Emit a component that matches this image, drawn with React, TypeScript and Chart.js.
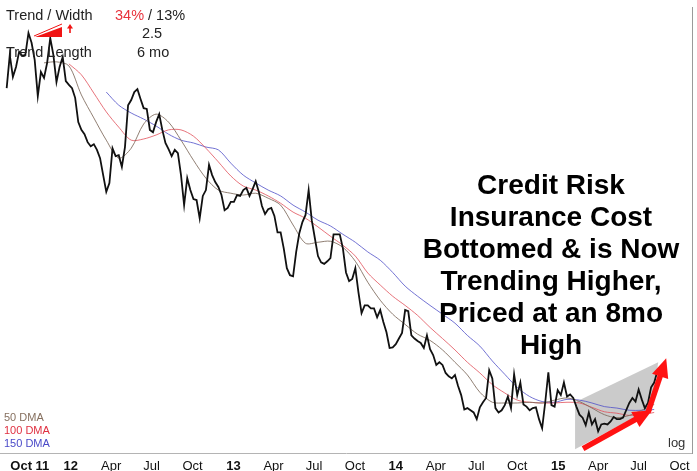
import React, { useEffect, useRef } from 'react';
import { Chart, registerables } from 'chart.js';

Chart.register(...registerables);

const DAY = 86400000;
const toMs = (d: string) => Date.parse(d + 'T00:00:00Z');

// ---- data ----
const seriesStart = '2011-08-10';
const seriesStepDays = 7;
const cdsValues = [
  125.0, 134.7, 128.2, 131.1, 135.6, 134.4, 134.7, 141.5, 138.4, 133.2,
  122.8, 129.6, 127.9, 132.3, 139.9, 134.7, 126.7, 131.1, 134.1, 127.0,
  125.9, 125.0, 122.3, 115.8, 113.8, 112.7, 110.7, 109.7, 110.2, 108.8,
  106.8, 102.8, 99.0, 101.0, 109.2, 107.3, 107.5, 104.7, 109.5, 120.3,
  121.7, 123.9, 124.7, 122.0, 119.5, 119.3, 113.8, 113.2, 115.8, 117.9,
  113.8, 110.5, 109.0, 107.3, 108.8, 108.0, 102.8, 96.1, 102.1, 99.4,
  97.4, 97.2, 93.3, 98.1, 99.4, 105.2, 102.8, 101.2, 100.1, 98.3,
  95.0, 95.5, 96.8, 96.8, 98.3, 98.1, 99.4, 99.9, 98.1, 99.6,
  101.4, 99.0, 95.9, 94.2, 95.2, 95.5, 93.8, 90.4, 90.4, 87.2,
  83.4, 82.1, 81.9, 86.5, 90.2, 92.5, 94.0, 99.4, 92.9, 89.2,
  85.7, 84.5, 84.2, 84.7, 85.3, 90.0, 90.0, 90.0, 87.2, 82.6,
  81.0, 81.4, 83.4, 79.0, 75.4, 76.7, 76.7, 76.2, 76.2, 74.7,
  75.9, 73.9, 72.2, 69.7, 69.8, 70.3, 71.2, 72.1, 75.9, 75.7,
  71.7, 71.2, 70.8, 70.5, 69.7, 71.7, 69.5, 68.6, 67.1, 67.5,
  67.1, 65.9, 65.4, 65.1, 65.6, 64.0, 62.7, 60.7, 60.9, 60.6,
  60.3, 59.4, 61.0, 61.7, 62.3, 66.3, 65.1, 60.9, 60.3, 60.6,
  61.3, 62.5, 60.9, 65.7, 62.7, 64.5, 61.4, 61.1, 60.6, 60.9,
  61.0, 59.4, 58.2, 61.7, 66.0, 61.3, 61.1, 63.4, 62.7, 64.5,
  62.5, 62.8, 62.3, 61.1, 60.0, 59.6, 58.6, 60.3, 58.7, 59.4,
  57.8, 58.7, 58.8, 58.7, 59.1, 59.7, 59.4, 59.4, 59.6, 60.6,
  61.6, 62.3, 61.8, 63.5, 62.1, 60.9, 61.6, 63.8, 64.5, 66.1,
];

const maStart = '2011-08-10';
const maStepDays = 28;
const dma50 = [
  null, null, null, 132.3, 132.6, 131.4, 123.1, 116.9, 111.2, 106.8,
  109.2, 115.3, 117.9, 115.8, 111.2, 106.3, 102.1, 99.4, 98.7, 98.3,
  98.7, 97.6, 96.1, 91.9, 88.2, 88.4, 88.6, 87.4, 84.7, 80.8,
  77.6, 75.2, 73.5, 71.9, 70.9, 69.4, 67.5, 65.6, 63.1, 61.7,
  61.6, 61.6, 61.7, 61.6, 62.0, 62.3, 61.8, 60.9, 60.0, 59.6,
  59.9, 60.6, 61.4,
];
const dma100 = [
  null, null, null, null, null, 132.0, 128.8, 123.6, 118.5, 114.5,
  111.2, 111.5, 112.5, 113.8, 113.8, 112.2, 109.2, 105.9, 102.6, 100.3,
  99.4, 98.1, 96.5, 94.6, 93.3, 91.5, 89.6, 87.8, 85.7, 82.5,
  80.3, 78.3, 76.7, 75.0, 73.0, 71.2, 69.4, 67.5, 65.9, 64.2,
  63.0, 62.0, 61.7, 61.6, 61.6, 61.7, 61.6, 61.0, 60.4, 60.2,
  59.9, 60.0, 60.3,
];
const dma150 = [
  null, null, null, null, null, null, null, null, 123.9, 120.3,
  118.2, 116.6, 114.8, 112.7, 111.2, 110.5, 109.5, 108.8, 105.6, 102.8,
  101.0, 99.4, 98.1, 96.1, 94.6, 92.9, 91.7, 90.0, 88.4, 86.5,
  84.9, 82.6, 80.1, 78.3, 76.7, 75.2, 73.7, 71.7, 70.0, 67.7,
  65.7, 63.8, 62.5, 61.8, 61.7, 62.1, 62.0, 61.6, 61.1, 60.9,
  60.6, 60.6, 60.7,
];

const axisStart = '2011-07-26';
const axisEnd = '2015-10-29';
const yMin = 55;
const yMax = 150;

const quarterTicks = [
  '2011-10-01', '2012-01-01', '2012-04-01', '2012-07-01', '2012-10-01',
  '2013-01-01', '2013-04-01', '2013-07-01', '2013-10-01',
  '2014-01-01', '2014-04-01', '2014-07-01', '2014-10-01',
  '2015-01-01', '2015-04-01', '2015-07-01', '2015-10-01',
];
const quarterLabels = [
  'Oct 11', '12', 'Apr', 'Jul', 'Oct',
  '13', 'Apr', 'Jul', 'Oct',
  '14', 'Apr', 'Jul', 'Oct',
  '15', 'Apr', 'Jul', 'Oct',
];
const boldLabels = ['Oct 11', '12', '13', '14', '15'];

// trend channel + arrows (date, value)
const channelDates = ['2015-02-08', '2015-08-14', '2015-07-31', '2015-02-08'];
const channelValues = [61.7, 67.5, 60.9, 55.5];
const arrowFromDates = ['2015-02-26', '2015-07-22'];
const arrowFromValues = [55.6, 60.3];
const arrowToDates = ['2015-07-31', '2015-09-01'];
const arrowToValues = [60.6, 68.1];

const headline = [
  'Credit Risk',
  'Insurance Cost',
  'Bottomed & is Now',
  'Trending Higher,',
  'Priced at an 8mo',
  'High',
];
const dmaLegend = ['50 DMA', '100 DMA', '150 DMA'];
const dmaColors = ['rgba(125,105,90,0.85)', 'rgba(225,80,90,0.8)', 'rgba(80,80,200,0.8)'];
const dmaTextColors = ['#86705f', '#e03040', '#4a4ac8'];

const FONT = '"Liberation Sans", Arial, Helvetica, sans-serif';

function seriesPoints(values: (number | null)[], start: string, step: number) {
  const s = toMs(start);
  const out: { x: number; y: number }[] = [];
  values.forEach((v, i) => {
    if (v !== null) out.push({ x: s + i * step * DAY, y: v });
  });
  return out;
}

function drawArrow(ctx: CanvasRenderingContext2D, x1: number, y1: number, x2: number, y2: number) {
  const ang = Math.atan2(y2 - y1, x2 - x1);
  const headLen = 19;
  const headHalf = 8.5;
  const bx = x2 - Math.cos(ang) * headLen;
  const by = y2 - Math.sin(ang) * headLen;
  ctx.beginPath();
  ctx.moveTo(x1, y1);
  ctx.lineTo(bx + Math.cos(ang) * 2, by + Math.sin(ang) * 2);
  ctx.lineWidth = 5.5;
  ctx.lineCap = 'butt';
  ctx.stroke();
  ctx.beginPath();
  ctx.moveTo(x2, y2);
  ctx.lineTo(bx + Math.sin(ang) * headHalf, by - Math.cos(ang) * headHalf);
  ctx.lineTo(bx - Math.sin(ang) * headHalf, by + Math.cos(ang) * headHalf);
  ctx.closePath();
  ctx.fill();
}

const overlayPlugin = {
  id: 'overlay',
  beforeDatasetsDraw(chart: any) {
    const { ctx, scales, chartArea } = chart;
    const xs = scales.x;
    const ys = scales.y;
    ctx.save();
    ctx.beginPath();
    ctx.rect(chartArea.left, chartArea.top, chartArea.right - chartArea.left, chartArea.bottom - chartArea.top);
    ctx.clip();
    ctx.beginPath();
    channelDates.forEach((d, i) => {
      const px = xs.getPixelForValue(toMs(d));
      const py = ys.getPixelForValue(channelValues[i]);
      if (i === 0) ctx.moveTo(px, py);
      else ctx.lineTo(px, py);
    });
    ctx.closePath();
    ctx.fillStyle = '#cbcbcb';
    ctx.fill();
    ctx.restore();
  },
  afterDatasetsDraw(chart: any) {
    const { ctx, scales } = chart;
    const xs = scales.x;
    const ys = scales.y;
    ctx.save();
    ctx.strokeStyle = '#ff1212';
    ctx.fillStyle = '#ff1212';
    arrowFromDates.forEach((d, i) => {
      drawArrow(
        ctx,
        xs.getPixelForValue(toMs(d)),
        ys.getPixelForValue(arrowFromValues[i]),
        xs.getPixelForValue(toMs(arrowToDates[i])),
        ys.getPixelForValue(arrowToValues[i]),
      );
    });
    ctx.restore();
  },
  afterDraw(chart: any) {
    const { ctx } = chart;
    ctx.save();
    // headline
    ctx.fillStyle = '#000';
    ctx.font = `bold 28px ${FONT}`;
    ctx.textAlign = 'center';
    ctx.textBaseline = 'alphabetic';
    headline.forEach((t, i) => ctx.fillText(t, 551, 194 + i * 32));

    // top-left info box
    ctx.textAlign = 'left';
    ctx.font = `14.5px ${FONT}`;
    ctx.fillStyle = '#222';
    ctx.fillText('Trend / Width', 6, 19.5);
    ctx.fillStyle = '#e8323c';
    ctx.fillText('34%', 115, 19.5);
    const w = ctx.measureText('34%').width;
    ctx.fillStyle = '#222';
    ctx.fillText(' / 13%', 115 + w, 19.5);
    ctx.textAlign = 'center';
    ctx.fillText('2.5', 152, 38);
    ctx.textAlign = 'left';
    ctx.fillText('Trend Length', 6, 57);
    ctx.fillText('6 mo', 137, 57);

    // red wedge + up arrow in info box
    ctx.fillStyle = '#f01414';
    ctx.beginPath();
    ctx.moveTo(35, 37);
    ctx.lineTo(62, 27);
    ctx.lineTo(62, 37);
    ctx.closePath();
    ctx.fill();
    ctx.strokeStyle = '#f01414';
    ctx.lineWidth = 1;
    ctx.beginPath();
    ctx.moveTo(34, 36);
    ctx.lineTo(62, 24);
    ctx.stroke();
    ctx.lineWidth = 1.6;
    ctx.beginPath();
    ctx.moveTo(70, 33);
    ctx.lineTo(70, 27);
    ctx.stroke();
    ctx.beginPath();
    ctx.moveTo(67, 28.5);
    ctx.lineTo(73, 28.5);
    ctx.lineTo(70, 24);
    ctx.closePath();
    ctx.fill();

    // DMA legend
    ctx.font = `11px ${FONT}`;
    dmaLegend.forEach((t, i) => {
      ctx.fillStyle = dmaTextColors[i];
      ctx.fillText(t, 4, 421 + i * 13);
    });

    // log label
    ctx.fillStyle = '#333';
    ctx.font = `13px ${FONT}`;
    ctx.fillText('log', 668, 447);
    ctx.restore();
  },
};

export default function App() {
  const canvasRef = useRef<HTMLCanvasElement | null>(null);

  useEffect(() => {
    const canvas = canvasRef.current;
    if (!canvas) return;
    Chart.defaults.font.family = FONT;

    const chart = new Chart(canvas, {
      type: 'line',
      data: {
        datasets: [
          {
            label: 'Credit risk insurance cost',
            data: seriesPoints(cdsValues, seriesStart, seriesStepDays),
            borderColor: '#111',
            borderWidth: 1.8,
            pointRadius: 0,
            tension: 0,
          },
          {
            label: '50 DMA',
            data: seriesPoints(dma50, maStart, maStepDays),
            borderColor: dmaColors[0],
            borderWidth: 1,
            pointRadius: 0,
            tension: 0.3,
          },
          {
            label: '100 DMA',
            data: seriesPoints(dma100, maStart, maStepDays),
            borderColor: dmaColors[1],
            borderWidth: 1,
            pointRadius: 0,
            tension: 0.3,
          },
          {
            label: '150 DMA',
            data: seriesPoints(dma150, maStart, maStepDays),
            borderColor: dmaColors[2],
            borderWidth: 1,
            pointRadius: 0,
            tension: 0.3,
          },
        ],
      },
      options: {
        animation: false,
        responsive: false,
        maintainAspectRatio: false,
        layout: { padding: { left: 0, right: 5, top: 7, bottom: 1 } },
        plugins: {
          legend: { display: false },
          tooltip: { enabled: false },
        },
        scales: {
          x: {
            type: 'linear',
            min: toMs(axisStart),
            max: toMs(axisEnd),
            afterBuildTicks: (axis: any) => {
              axis.ticks = quarterTicks.map((d) => ({ value: toMs(d) }));
            },
            grid: { display: false, drawTicks: false },
            border: { display: true, color: '#b4b4b4', width: 1 },
            ticks: {
              autoSkip: false,
              maxRotation: 0,
              minRotation: 0,
              padding: 5,
              color: '#111',
              callback: (value: any) => {
                const idx = quarterTicks.findIndex((d) => toMs(d) === value);
                return idx >= 0 ? quarterLabels[idx] : '';
              },
              font: (ctx: any) => ({
                family: FONT,
                size: 13,
                weight: boldLabels.includes(quarterLabels[ctx.index]) ? 'bold' : 'normal',
              }),
            },
          },
          y: {
            type: 'logarithmic',
            position: 'right',
            min: yMin,
            max: yMax,
            bounds: 'data',
            grid: { display: false, drawTicks: false },
            border: { display: true, color: '#9a9a9a', width: 1 },
            ticks: { display: false },
          },
        },
      },
      plugins: [overlayPlugin],
    } as any);

    return () => chart.destroy();
  }, []);

  return (
    <div style={{ position: 'absolute', left: 0, top: 0, width: 697, height: 471, overflow: 'hidden', background: '#fff' }}>
      <canvas ref={canvasRef} width={697} height={480} style={{ display: 'block' }} />
    </div>
  );
}
